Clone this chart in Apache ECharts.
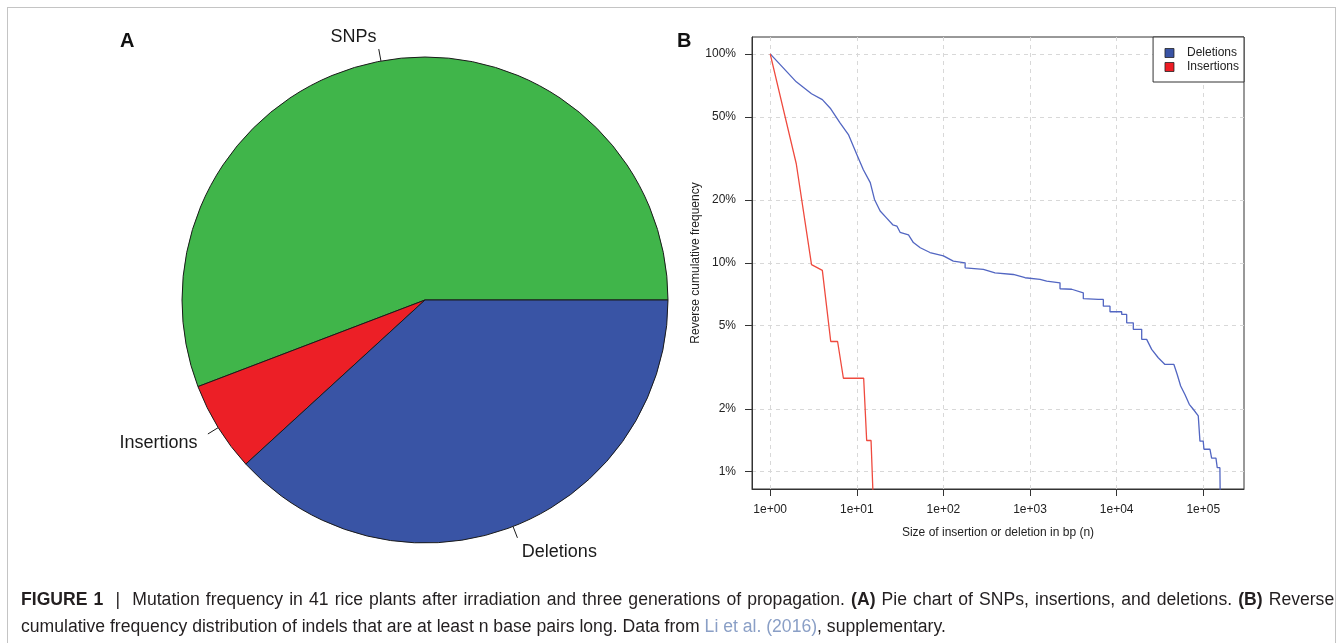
<!DOCTYPE html>
<html>
<head>
<meta charset="utf-8">
<script src="https://cdn.jsdelivr.net/npm/echarts@6/dist/echarts.min.js"></script>
<style>
  html, body { margin: 0; padding: 0; background: #fff; }
  #wrap { position: relative; width: 1344px; height: 643px; overflow: hidden; }
  #frame { position: absolute; left: 7px; top: 7px; width: 1329px; height: 700px; border: 1px solid #c4c4c4; box-sizing: border-box; }
  #chart { position: absolute; left: 0; top: 0; width: 1344px; height: 643px; }
  #cap { position: absolute; left: 21px; top: 586px; font-family: 'Liberation Sans', Arial, Helvetica, sans-serif; font-size: 17.6px; line-height: 27px; color: #231f20; white-space: nowrap; }
  #cap .l1 { word-spacing: 1.2px; }
  #cap b { font-weight: bold; }
  #cap .ref { color: #8a9fc6; }
</style>
</head>
<body>
<div id="wrap">
  <div id="frame"></div>
  <div id="chart"></div>
  <div id="cap"><span class="l1"><b>FIGURE 1</b>&nbsp; |&nbsp; Mutation frequency in 41 rice plants after irradiation and three generations of propagation. <b>(A)</b> Pie chart of SNPs, insertions, and deletions. <b>(B)</b> Reverse</span><br>cumulative frequency distribution of indels that are at least n base pairs long. Data from <span class="ref">Li et al. (2016)</span>, supplementary.</div>
</div>
<script>
// ---------------- data ----------------
const pieCategories = ['SNPs', 'Insertions', 'Deletions'];
const pieValues = [55.8, 6.0, 38.2];

const seriesNames = ['Deletions', 'Insertions'];

// Deletions: [size (bp), reverse cumulative frequency]
const deletionPoints = [
  [1, 1.0], [2, 0.735], [3, 0.645], [4, 0.604], [5, 0.546], [6.4, 0.468], [8, 0.411],
  [10, 0.33], [11.9, 0.279], [14.3, 0.242], [16, 0.201], [18.6, 0.177], [22, 0.164],
  [26, 0.152], [29, 0.150], [31.6, 0.140], [39.5, 0.136], [45, 0.125], [54, 0.118],
  [70, 0.112], [100, 0.108], [130, 0.1018], [178, 0.100], [178, 0.0946], [289, 0.0929],
  [394, 0.0895], [641, 0.0879], [876, 0.0848], [1303, 0.0832], [1557, 0.0817],
  [2218, 0.0802], [2218, 0.0751], [3027, 0.0747], [4120, 0.0718], [4120, 0.0673],
  [6138, 0.0668], [7015, 0.0668], [7015, 0.0620], [8375, 0.0620], [8375, 0.0583],
  [11430, 0.0583], [11430, 0.0566], [13050, 0.0566], [13050, 0.0516], [15560, 0.0516],
  [15560, 0.0480], [19450, 0.0480], [19450, 0.0430], [22200, 0.0430], [25360, 0.0385],
  [30200, 0.0351], [36100, 0.0326], [45800, 0.0326], [50000, 0.0292], [54800, 0.0257],
  [61400, 0.0234], [68900, 0.0210], [76600, 0.0199], [87500, 0.0185], [91500, 0.0140],
  [99800, 0.0140], [101800, 0.0128], [119500, 0.0128], [124800, 0.0116], [140000, 0.0116],
  [144900, 0.01045], [155500, 0.01045], [158500, 0.005]
];

// Insertions: [size (bp), reverse cumulative frequency]
const insertionPoints = [
  [1, 1.0], [2, 0.298], [3, 0.098], [4, 0.092], [5, 0.042], [6, 0.042], [7, 0.028],
  [12, 0.028], [13, 0.0141], [14.6, 0.0141], [16, 0.005]
];

const xTickValues = [1, 10, 100, 1000, 10000, 100000];
const xTickLabels = ['1e+00', '1e+01', '1e+02', '1e+03', '1e+04', '1e+05'];
const yTickValues = [0.01, 0.02, 0.05, 0.1, 0.2, 0.5, 1];
const yTickLabels = ['1%', '2%', '5%', '10%', '20%', '50%', '100%'];

// ---------------- layout ----------------
const FONT = "'Liberation Sans', Arial, Helvetica, sans-serif";
const PIE_CX = 425, PIE_CY = 300, PIE_R = 243;
const X_LOG_RANGE = [-0.21, 5.47];
const Y_LOG_RANGE = [-2.083, 0.081];

const lg = v => Math.log10(v);
function tickFormatter(values, labels) {
  return function (v) {
    for (let i = 0; i < values.length; i++) {
      if (Math.abs(lg(values[i]) - v) < 1e-6) return labels[i];
    }
    return '';
  };
}

const pieTotal = pieValues.reduce((a, b) => a + b, 0);
function pieLabelLayout(params) {
  const i = params.dataIndex;
  let before = 0;
  for (let k = 0; k < i; k++) before += pieValues[k];
  const midDeg = (before + pieValues[i] / 2) / pieTotal * 360;
  const a = midDeg * Math.PI / 180;
  const c = Math.cos(a), s = Math.sin(a);
  const p = f => [PIE_CX + f * PIE_R * c, PIE_CY - f * PIE_R * s];
  const lbl = p(1.1);
  return {
    x: lbl[0], y: lbl[1] + (s < 0 ? 3 : 0),
    align: c < 0 ? 'right' : 'left',
    verticalAlign: 'middle',
    labelLinePoints: [p(1.0), p(1.05), p(1.05)]
  };
}

const pieColors = ['#40b54a', '#ec1f26', '#3954a5'];
const lineColors = ['#5266c2', '#ef4a3e'];
const legendColors = ['#3953a4', '#ed1c24'];

const chart = echarts.init(document.getElementById('chart'), null, { renderer: 'canvas' });

const option = {
  animation: false,
  textStyle: { fontFamily: FONT },
  title: [
    { text: 'A', left: 120, top: 31, padding: 0, textStyle: { fontFamily: FONT, fontSize: 20, fontWeight: 'bold', color: '#111' } },
    { text: 'B', left: 677, top: 31, padding: 0, textStyle: { fontFamily: FONT, fontSize: 20, fontWeight: 'bold', color: '#111' } }
  ],
  legend: {
    data: seriesNames.map((n, i) => ({
      name: n,
      itemStyle: { color: legendColors[i], borderColor: '#222', borderWidth: 0.8 }
    })),
    orient: 'vertical',
    right: 100,
    top: 37,
    icon: 'rect',
    itemWidth: 9,
    itemHeight: 9,
    itemGap: 0,
    padding: [9, 5, 8, 11.5],
    borderColor: '#333',
    borderWidth: 1,
    backgroundColor: '#fff',
    selectedMode: false,
    textStyle: { fontFamily: FONT, fontSize: 12, lineHeight: 14, color: '#222', padding: [0, 0, 0, 8] }
  },
  grid: {
    left: 752, top: 37, right: 100, bottom: 154,
    show: true, borderColor: '#333', borderWidth: 1, backgroundColor: 'transparent'
  },
  xAxis: {
    type: 'value',
    min: X_LOG_RANGE[0], max: X_LOG_RANGE[1],
    name: 'Size of insertion or deletion in bp (n)',
    nameLocation: 'middle',
    nameGap: 38,
    nameTextStyle: { fontFamily: FONT, fontSize: 12, color: '#222' },
    axisLine: { show: true, onZero: false, lineStyle: { color: '#333', width: 1 } },
    axisTick: { show: true, inside: false, length: 7, lineStyle: { color: '#333' }, customValues: xTickValues.map(lg) },
    axisLabel: { show: true, margin: 15, fontSize: 12, color: '#222', fontFamily: FONT,
      customValues: xTickValues.map(lg), formatter: tickFormatter(xTickValues, xTickLabels) },
    splitLine: { show: true, lineStyle: { color: '#d8d8d8', width: 1, type: [4, 4] } }
  },
  yAxis: {
    type: 'value',
    min: Y_LOG_RANGE[0], max: Y_LOG_RANGE[1],
    name: 'Reverse cumulative frequency',
    nameLocation: 'middle',
    nameGap: 43,
    nameRotate: 90,
    nameTextStyle: { fontFamily: FONT, fontSize: 12, color: '#222' },
    axisLine: { show: true, onZero: false, lineStyle: { color: '#333', width: 1 } },
    axisTick: { show: true, inside: false, length: 7, lineStyle: { color: '#333' }, customValues: yTickValues.map(lg) },
    axisLabel: { show: true, margin: 16, fontSize: 12, color: '#222', fontFamily: FONT,
      customValues: yTickValues.map(lg), formatter: tickFormatter(yTickValues, yTickLabels) },
    splitLine: { show: true, lineStyle: { color: '#d8d8d8', width: 1, type: [4, 4] } }
  },
  series: [
    {
      type: 'pie',
      name: 'pie',
      center: [PIE_CX, PIE_CY],
      radius: PIE_R,
      startAngle: 0,
      clockwise: false,
      avoidLabelOverlap: false,
      emphasis: { disabled: true },
      itemStyle: { borderColor: '#1a1a1a', borderWidth: 1 },
      label: { show: true, position: 'outside', fontFamily: FONT, fontSize: 18, color: '#1a1a1a', formatter: '{b}' },
      labelLine: { show: true, length: 10, length2: 0, lineStyle: { color: '#1a1a1a', width: 1 } },
      labelLayout: pieLabelLayout,
      data: pieCategories.map((n, i) => ({ name: n, value: pieValues[i], itemStyle: { color: pieColors[i] } }))
    },
    {
      type: 'line',
      name: seriesNames[0],
      data: deletionPoints.map(p => [lg(p[0]), lg(p[1])]),
      showSymbol: false,
      symbol: 'none',
      clip: true,
      color: legendColors[0],
      lineStyle: { color: lineColors[0], width: 1.3 },
      emphasis: { disabled: true }
    },
    {
      type: 'line',
      name: seriesNames[1],
      data: insertionPoints.map(p => [lg(p[0]), lg(p[1])]),
      showSymbol: false,
      symbol: 'none',
      clip: true,
      color: legendColors[1],
      lineStyle: { color: lineColors[1], width: 1.3 },
      emphasis: { disabled: true }
    }
  ]
};
chart.setOption(option);
</script>
</body>
</html>
